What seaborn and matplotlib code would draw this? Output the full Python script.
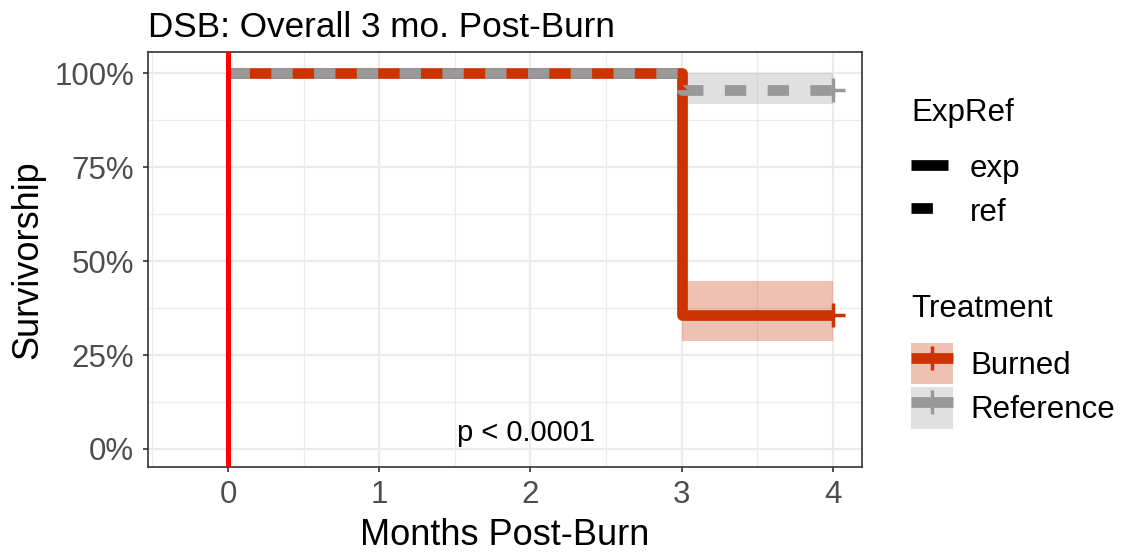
import numpy as np
import matplotlib
matplotlib.use('Agg')
import matplotlib.pyplot as plt
import pandas as pd
import seaborn as sns
from matplotlib.lines import Line2D
from matplotlib.patches import Patch
from matplotlib.ticker import MultipleLocator, PercentFormatter

# Survival curves (Kaplan-Meier steps)
time = [0, 3, 4]
burned_surv = [1.0, 0.356, 0.356]
burned_lower = [1.0, 0.287, 0.287]
burned_upper = [1.0, 0.447, 0.447]
ref_surv = [1.0, 0.955, 0.955]
ref_lower = [1.0, 0.918, 0.918]
ref_upper = [1.0, 1.0, 1.0]

treatments = ['Burned', 'Reference']
expref = ['exp', 'ref']
colors = {'Burned': '#CC3300', 'Reference': '#999999'}
p_text = 'p < 0.0001'

sns.set_theme(style='white')
plt.rcParams['font.family'] = ['Liberation Sans', 'DejaVu Sans']
plt.rcParams['text.color'] = 'black'

df = pd.concat([
    pd.DataFrame({'time': time, 'surv': burned_surv, 'Treatment': 'Burned', 'ExpRef': 'exp'}),
    pd.DataFrame({'time': time, 'surv': ref_surv, 'Treatment': 'Reference', 'ExpRef': 'ref'}),
], ignore_index=True)

fig = plt.figure(figsize=(11.28, 5.54), dpi=100)
ax = fig.add_axes([0.131, 0.157, 0.633, 0.749])

# confidence ribbons
ax.fill_between(time, burned_lower, burned_upper, step='post', color=colors['Burned'], alpha=0.3, lw=0, zorder=2)
ax.fill_between(time, ref_lower, ref_upper, step='post', color=colors['Reference'], alpha=0.3, lw=0, zorder=2)

lw = 7.7
sns.lineplot(data=df, x='time', y='surv', hue='Treatment', style='ExpRef',
             palette=colors, dashes={'exp': '', 'ref': (2, 2)},
             estimator=None, drawstyle='steps-post', lw=lw, legend=False,
             solid_joinstyle='round', dash_joinstyle='round',
             solid_capstyle='butt', dash_capstyle='butt', ax=ax, zorder=3)

# censor marks at the end
last = df[df['time'] == max(time)].drop_duplicates(['Treatment'])
for _, r in last.iterrows():
    ax.plot(r['time'], r['surv'], marker='+', ms=17, mew=2.5, color=colors[r['Treatment']], zorder=4)

ax.axvline(0, color='#FF0000', lw=3.6, zorder=5)

ax.text(1.97, 0.043, p_text, ha='center', va='center', fontsize=21, color='black')

ax.set_xlim(-0.53, 4.19)
ax.set_ylim(-0.048, 1.056)
ax.xaxis.set_major_locator(MultipleLocator(1))
ax.xaxis.set_minor_locator(MultipleLocator(0.5))
ax.yaxis.set_major_locator(MultipleLocator(0.25))
ax.yaxis.set_minor_locator(MultipleLocator(0.125))
ax.yaxis.set_major_formatter(PercentFormatter(1.0, decimals=0))
ax.grid(which='major', color='#EBEBEB', lw=1.6, zorder=0)
ax.grid(which='minor', color='#EBEBEB', lw=0.9, zorder=0)
ax.set_axisbelow(True)
for s in ax.spines.values():
    s.set_color('#333333')
    s.set_linewidth(1.2)
ax.tick_params(which='major', axis='both', length=3.8, width=1.2, color='#333333',
               labelsize=22.5, labelcolor='#4D4D4D', left=True, bottom=True)
ax.tick_params(axis='x', pad=5.5)
ax.tick_params(axis='y', pad=6)
ax.tick_params(which='minor', length=0)

ax.set_xlabel('Months Post-Burn', fontsize=26, color='black')
ax.set_ylabel('Survivorship', fontsize=26, color='black')
ax.xaxis.set_label_coords(0.5, -0.123)
ax.yaxis.set_label_coords(-0.143, 0.5)
ax.set_title('DSB: Overall 3 mo. Post-Burn', fontsize=25.3, loc='left', pad=11, color='black')

# legends (titles placed as separate text)
fs = 22.5
fig.text(911 / 1128, 1 - 121 / 554, 'ExpRef', fontsize=fs, va='baseline', ha='left', color='black')
fig.text(911 / 1128, 1 - 317 / 554, 'Treatment', fontsize=fs, va='baseline', ha='left', color='black')

h1 = [Line2D([], [], color='black', lw=lw, solid_capstyle='butt'),
      Line2D([], [], color='black', lw=lw, dashes=(2, 2), dash_capstyle='butt')]
leg1 = fig.legend(h1, expref, loc='center left', bbox_to_anchor=(0.8076, 1 - 190 / 554),
                  frameon=False, fontsize=fs, handlelength=1.18, handleheight=1.0,
                  handletextpad=0.7, labelspacing=0.39, labelcolor='black',
                  borderpad=0, borderaxespad=0)
h2 = []
for t in treatments:
    h2.append((Patch(facecolor=colors[t], alpha=0.3, lw=0),
               Line2D([], [], color=colors[t], lw=lw, marker='+', ms=17, mew=2.5, solid_capstyle='butt')))
leg2 = fig.legend(h2, treatments, loc='center left', bbox_to_anchor=(0.8076, 1 - 385.5 / 554),
                  frameon=False, fontsize=fs, handlelength=1.34, handleheight=1.69,
                  handletextpad=0.55, labelspacing=0.065, numpoints=1, labelcolor='black',
                  borderpad=0, borderaxespad=0)

fig.savefig('out.png', dpi=100)
